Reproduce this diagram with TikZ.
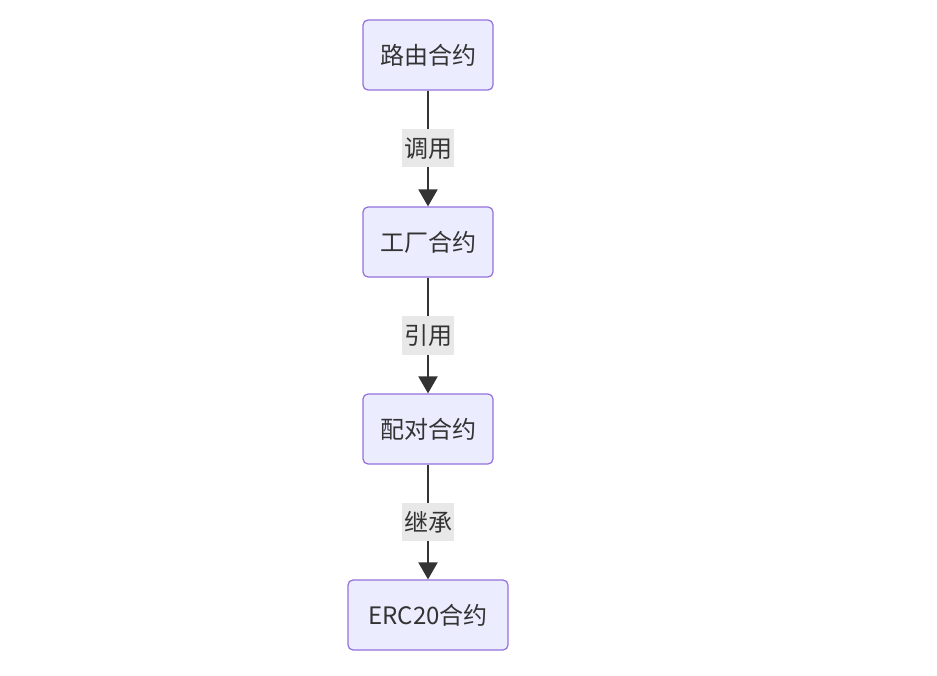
\documentclass[tikz,border=0pt]{standalone}
\usepackage{fontspec}
\newfontfamily\cjkfont{Noto Sans CJK SC}
\usetikzlibrary{arrows.meta, positioning}
\definecolor{boxfill}{HTML}{ECECFF}
\definecolor{boxline}{HTML}{9370DB}
\definecolor{inkc}{HTML}{333333}
\definecolor{labelbg}{HTML}{E8E8E8}

\begin{document}
\begin{tikzpicture}[x=1pt, y=-1pt,
    contract/.style={rectangle, rounded corners=5pt, draw=boxline, fill=boxfill,
      line width=1.2pt, minimum width=130pt, minimum height=70pt, inner sep=0pt,
      font=\cjkfont\fontsize{24}{28}\selectfont, text=inkc},
    link/.style={-{Triangle[length=17pt, width=19pt]}, draw=inkc, fill=inkc,
      line width=2pt},
    rel/.style={fill=labelbg, inner xsep=2pt, inner ysep=0pt, minimum height=38pt,
      font=\cjkfont\fontsize{24}{28}\selectfont, text=inkc}]
  \useasboundingbox (0,0) rectangle (937,676);
  \node[contract] (router) at (428,55) {路由合约};
  \node[contract] (factory) at (428,242) {工厂合约};
  \node[contract] (pair) at (428,429) {配对合约};
  \node[contract, minimum width=160pt] (erc) at (428,615) {ERC20合约};
  % edges
  \draw[link] (router) -- node[rel] {调用} (factory);
  \draw[link] (factory) -- node[rel] {引用} (pair);
  \draw[link] (pair) -- node[rel] {继承} (erc);
\end{tikzpicture}
\end{document}
